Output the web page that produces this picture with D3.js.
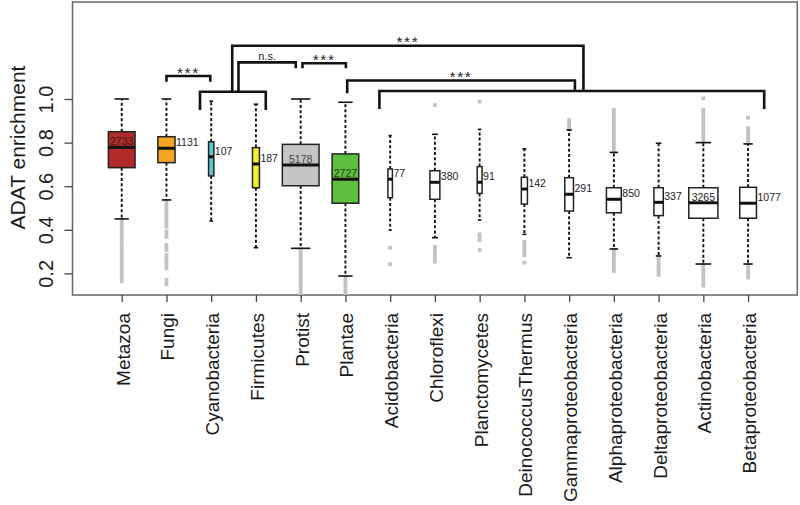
<!DOCTYPE html>
<html><head><meta charset="utf-8">
<script src="https://cdn.jsdelivr.net/npm/d3@7"></script>
<style>html,body{margin:0;padding:0;background:#fff;}svg{display:block;font-family:"Liberation Sans",Arial,sans-serif;}</style>
</head><body>
<svg id="chart" width="800" height="505"></svg>
<script>
const categories = ["Metazoa","Fungi","Cyanobacteria","Firmicutes","Protist","Plantae","Acidobacteria","Chloroflexi","Planctomycetes","DeinococcusThermus","Gammaproteobacteria","Alphaproteobacteria","Deltaproteobacteria","Actinobacteria","Betaproteobacteria"];
const counts = [2733,1131,107,187,5178,2727,77,380,91,142,291,850,337,3265,1077];
const whiskerHigh = [1.0,1.0,0.99,0.976,1.0,0.985,0.832,0.838,0.861,0.771,0.858,0.755,0.797,0.800,0.794];
const q3 = [0.850,0.827,0.804,0.777,0.792,0.748,0.679,0.671,0.690,0.641,0.639,0.593,0.593,0.593,0.595];
const medians = [0.778,0.774,0.735,0.702,0.697,0.632,0.632,0.618,0.618,0.587,0.563,0.540,0.526,0.524,0.522];
const q1 = [0.685,0.708,0.647,0.593,0.602,0.522,0.547,0.540,0.567,0.518,0.486,0.478,0.465,0.453,0.453];
const whiskerLow = [0.450,0.537,0.440,0.318,0.315,0.188,0.399,0.364,0.445,0.379,0.272,0.312,0.280,0.243,0.243];
// outlier extents [low, high] per category
const outliers = [
  [[0.330,0.445],[0.165,0.317]],
  [[0.453,0.529],[0.414,0.437],[0.368,0.391],[0.307,0.330],[0.223,0.284],[0.150,0.170]],
  [],
  [],
  [[0.102,0.310]],
  [[0.102,0.183]],
  [[0.318,0.318],[0.242,0.242]],
  [[0.972,0.972],[0.254,0.322]],
  [[0.988,0.988],[0.353,0.379],[0.307,0.307]],
  [[0.284,0.345],[0.249,0.249]],
  [[0.862,0.904]],
  [[0.760,0.950],[0.211,0.307]],
  [[0.193,0.269]],
  [[1.003,1.003],[0.805,0.950],[0.144,0.238]],
  [[0.914,0.914],[0.797,0.866],[0.181,0.239]]
];
const palette = ["#b22b2b","#f5a524","#5ec5d6","#f2ee2a","#c4c4c4","#5fbf3f","#ffffff","#ffffff","#ffffff","#ffffff","#ffffff","#ffffff","#ffffff","#ffffff","#ffffff"];
const yTicks = [0.2,0.4,0.6,0.8,1.0];
const yLabel = "ADAT enrichment";
// significance brackets in data units (x: category position, y: value)
const brackets = [
  {x1:1.0, x2:1.98, y:1.1055, legL:1.079, legR:1.079, label:"***"},
  {x1:1.75, x2:3.22, y:1.0335, legL:0.9495, legR:0.9495, label:""},
  {x1:5.76, x2:14.36, y:1.0367, legL:0.954, legR:0.954, label:""},
  {x1:2.61, x2:3.89, y:1.168, legL:1.0335, legR:1.141, label:"n.s."},
  {x1:4.04, x2:5.01, y:1.164, legL:1.141, legR:1.141, label:"***"},
  {x1:2.47, x2:10.32, y:1.2445, legL:1.0335, legR:1.0367, label:"***"},
  {x1:5.04, x2:10.13, y:1.085, legL:1.026, legR:1.0367, label:"***"}
];

const svg = d3.select("#chart");
const L = 72.5, R = 797.3, T = 2, B = 295;
const x = d3.scaleLinear().domain([-1.1, 15.1]).range([L, R]);
const y = d3.scaleLinear().domain([0.1009, 1.445]).range([B, T]);
const w = d3.scaleSqrt().domain([0, 5178]).range([0, 36.7]);

// frame
svg.append("rect").attr("x",L).attr("y",T).attr("width",R-L).attr("height",B-T)
  .attr("fill","none").attr("stroke","#666").attr("stroke-width",1.5);

// y axis
const ya = svg.append("g").attr("transform",`translate(${L},0)`)
  .call(d3.axisLeft(y).tickValues(yTicks).tickSize(8).tickFormat(d3.format(".1f")));
ya.select(".domain").remove();
ya.selectAll("line").attr("stroke","#444").attr("stroke-width",1.3);
ya.selectAll("text").attr("x",0).attr("y",0).attr("dy",null)
  .attr("transform","translate(-27,0) rotate(-90)")
  .attr("text-anchor","middle").attr("dominant-baseline","central")
  .attr("font-size",20).attr("fill","#222").attr("font-family","Liberation Sans, Arial, sans-serif");

// x axis
const xa = svg.append("g").attr("transform",`translate(0,${B})`)
  .call(d3.axisBottom(x).tickValues(d3.range(categories.length)).tickSize(7).tickFormat(i => categories[i]));
xa.select(".domain").remove();
xa.selectAll("line").attr("stroke","#444").attr("stroke-width",1.3);
xa.selectAll("text").attr("x",0).attr("y",0).attr("dy",null)
  .attr("transform","translate(1,18) rotate(-90)")
  .attr("text-anchor","end").attr("dominant-baseline","central")
  .attr("font-size",19).attr("fill","#1a1a1a").attr("font-family","Liberation Sans, Arial, sans-serif");

// y title
svg.append("text").attr("transform",`translate(17,147.5) rotate(-90)`)
  .attr("text-anchor","middle").attr("dominant-baseline","central")
  .attr("font-size",21).attr("fill","#1a1a1a").text(yLabel);

const idx = d3.range(categories.length);

// outliers
const og = svg.append("g");
idx.forEach(i => {
  outliers[i].forEach(([lo, hi]) => {
    const top = y(hi) - 1.9, bot = y(lo) + 1.9;
    og.append("rect").attr("x", x(i) - 1.9).attr("y", top).attr("width", 3.8)
      .attr("height", Math.min(bot, B) - top).attr("fill", "#c2c2c2");
  });
});

// whiskers
const wg = svg.append("g");
idx.forEach(i => {
  const cx = x(i), hw = w(counts[i]) / 2;
  wg.append("line").attr("x1",cx).attr("x2",cx).attr("y1",y(q3[i])).attr("y2",y(whiskerHigh[i]))
    .attr("stroke","#111").attr("stroke-width",1.9).attr("stroke-dasharray","3,2.2");
  wg.append("line").attr("x1",cx).attr("x2",cx).attr("y1",y(q1[i])).attr("y2",y(whiskerLow[i]))
    .attr("stroke","#111").attr("stroke-width",1.9).attr("stroke-dasharray","3,2.2");
  [whiskerHigh[i], whiskerLow[i]].forEach(v => {
    wg.append("line").attr("x1",cx - hw/2 - 0.5).attr("x2",cx + hw/2 + 0.5).attr("y1",y(v)).attr("y2",y(v))
      .attr("stroke","#111").attr("stroke-width",1.6);
  });
});

// boxes
const bg = svg.append("g");
idx.forEach(i => {
  const cx = x(i), hw = w(counts[i]) / 2;
  bg.append("rect").attr("x",cx-hw).attr("y",y(q3[i])).attr("width",2*hw).attr("height",y(q1[i])-y(q3[i]))
    .attr("fill",palette[i]).attr("stroke","#222").attr("stroke-width",1.5);
  bg.append("line").attr("x1",cx-hw).attr("x2",cx+hw).attr("y1",y(medians[i])).attr("y2",y(medians[i]))
    .attr("stroke","#111").attr("stroke-width",3);
  const inside = counts[i] > 2000;
  const col = inside ? (palette[i] === "#ffffff" ? "#222" : d3.color(palette[i]).darker(3).formatHex()) : "#222";
  bg.append("text").attr("x", inside ? cx : cx + hw + 1).attr("y", y(medians[i]) - 6)
    .attr("text-anchor", inside ? "middle" : "start").attr("dominant-baseline","central")
    .attr("font-size",10.5).attr("fill",col).text(counts[i]);
});

// brackets
const kg = svg.append("g");
brackets.forEach(b => {
  const p = d3.path();
  p.moveTo(x(b.x1), y(b.legL));
  p.lineTo(x(b.x1), y(b.y));
  p.lineTo(x(b.x2), y(b.y));
  p.lineTo(x(b.x2), y(b.legR));
  kg.append("path").attr("d", p.toString()).attr("fill","none").attr("stroke","#111")
    .attr("stroke-width",2.6).attr("stroke-linejoin","miter");
  if (b.label) {
    const ns = b.label === "n.s.";
    kg.append("text").attr("x",(x(b.x1)+x(b.x2))/2).attr("y", y(b.y) + (ns ? -2.5 : 1.5))
      .attr("text-anchor","middle").attr("font-size", ns ? 11 : 15.5)
      .attr("letter-spacing", ns ? 0 : 1.6).attr("fill","#222").text(b.label);
  }
});
</script>
</body></html>
